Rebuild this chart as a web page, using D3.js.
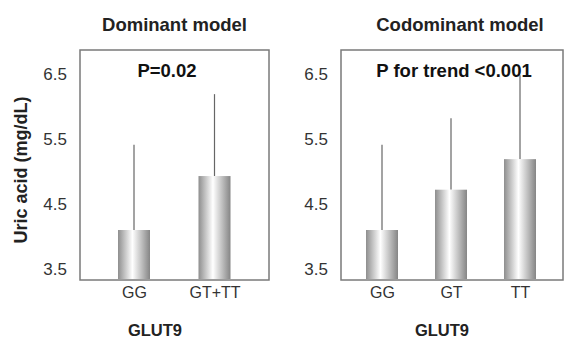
<!DOCTYPE html>
<html lang="en">
<head>
<meta charset="utf-8">
<title>GLUT9 uric acid</title>
<script src="https://cdn.jsdelivr.net/npm/d3@7/dist/d3.min.js"></script>
<style>
  body { margin: 0; background: #fff; }
  svg { display: block; font-family: "Liberation Sans", Arial, sans-serif; }
</style>
</head>
<body>
<div id="chart"></div>
<script>
// data
const domCats = ["GG", "GT+TT"];
const domMeans = [4.1, 4.93];
const domUpper = [5.41, 6.19];

const coCats = ["GG", "GT", "TT"];
const coMeans = [4.1, 4.72, 5.19];
const coUpper = [5.41, 5.82, 6.48];

const yTicks = [3.5, 4.5, 5.5, 6.5];

var w = 565, h = 340;
var barW = 32;
var svg = d3.select("#chart").append("svg").attr("width", w).attr("height", h);

// bar shading: grey edges, bright centre
var grad = svg.append("defs").append("linearGradient").attr("id", "barGrad")
  .attr("x1", "0%").attr("x2", "100%").attr("y1", "0%").attr("y2", "0%");
grad.append("stop").attr("offset", "0%").attr("stop-color", "#8e8e8e");
grad.append("stop").attr("offset", "45%").attr("stop-color", "#ffffff");
grad.append("stop").attr("offset", "100%").attr("stop-color", "#858585");

var y = d3.scaleLinear().domain([3.5, 6.5]).range([269, 74]);

function panel(opts) {
  var g = svg.append("g");
  var x = d3.scalePoint().domain(opts.cats).range(opts.xr);

  // frame
  g.append("rect")
    .attr("x", opts.left).attr("y", 50)
    .attr("width", opts.right - opts.left).attr("height", 230)
    .attr("fill", "none").attr("stroke", "#7a7a7a").attr("stroke-width", 1.5);

  // y axis labels (no ticks drawn)
  var ax = g.append("g").attr("transform", "translate(" + (opts.left - 10) + ",0)")
    .call(d3.axisLeft(y).tickValues(yTicks).tickFormat(d3.format(".1f")).tickSize(0));
  ax.select(".domain").remove();
  ax.selectAll("text").attr("font-size", 17).attr("fill", "#333")
    .attr("font-family", "Liberation Sans, Arial, sans-serif");

  // error whiskers (drawn first, bars cover lower part)
  g.selectAll("line.err").data(opts.cats).enter().append("line")
    .attr("x1", d => x(d)).attr("x2", d => x(d))
    .attr("y1", (d, i) => y(opts.upper[i]))
    .attr("y2", (d, i) => y(opts.means[i]))
    .attr("stroke", "#666").attr("stroke-width", 1.2);

  g.selectAll("rect.bar").data(opts.cats).enter().append("rect")
    .attr("x", d => x(d) - barW / 2)
    .attr("width", barW)
    .attr("y", (d, i) => y(opts.means[i]))
    .attr("height", (d, i) => 279 - y(opts.means[i]))
    .attr("fill", "url(#barGrad)");

  // category labels
  var xa = g.append("g").attr("transform", "translate(0,280)")
    .call(d3.axisBottom(x).tickSize(0).tickPadding(7));
  xa.select(".domain").remove();
  xa.selectAll("text").attr("font-size", 16).attr("fill", "#333")
    .attr("font-family", "Liberation Sans, Arial, sans-serif");

  g.append("text").attr("x", opts.titleX).attr("y", 31)
    .attr("text-anchor", "middle").attr("font-size", 18.5).attr("font-weight", "bold")
    .attr("fill", "#222").text(opts.title);
  g.append("text").attr("x", opts.pX).attr("y", 77)
    .attr("text-anchor", "middle").attr("font-size", 18.5).attr("font-weight", "bold")
    .attr("fill", "#111").text(opts.p);
  g.append("text").attr("x", opts.glutX).attr("y", 336)
    .attr("text-anchor", "middle").attr("font-size", 16.5).attr("font-weight", "bold")
    .attr("fill", "#222").text("GLUT9");
}

panel({cats: domCats, means: domMeans, upper: domUpper,
  left: 80, right: 269, xr: [134, 214.5],
  title: "Dominant model", titleX: 174.5, p: "P=0.02", pX: 167, glutX: 155});

panel({cats: coCats, means: coMeans, upper: coUpper,
  left: 341, right: 563, xr: [382, 520],
  title: "Codominant model", titleX: 460, p: "P for trend <0.001", pX: 454, glutX: 442});

svg.append("text")
  .attr("transform", "translate(27,170) rotate(-90)")
  .attr("text-anchor", "middle").attr("font-size", 18).attr("font-weight", "bold")
  .attr("fill", "#222").text("Uric acid (mg/dL)");
</script>
</body>
</html>
